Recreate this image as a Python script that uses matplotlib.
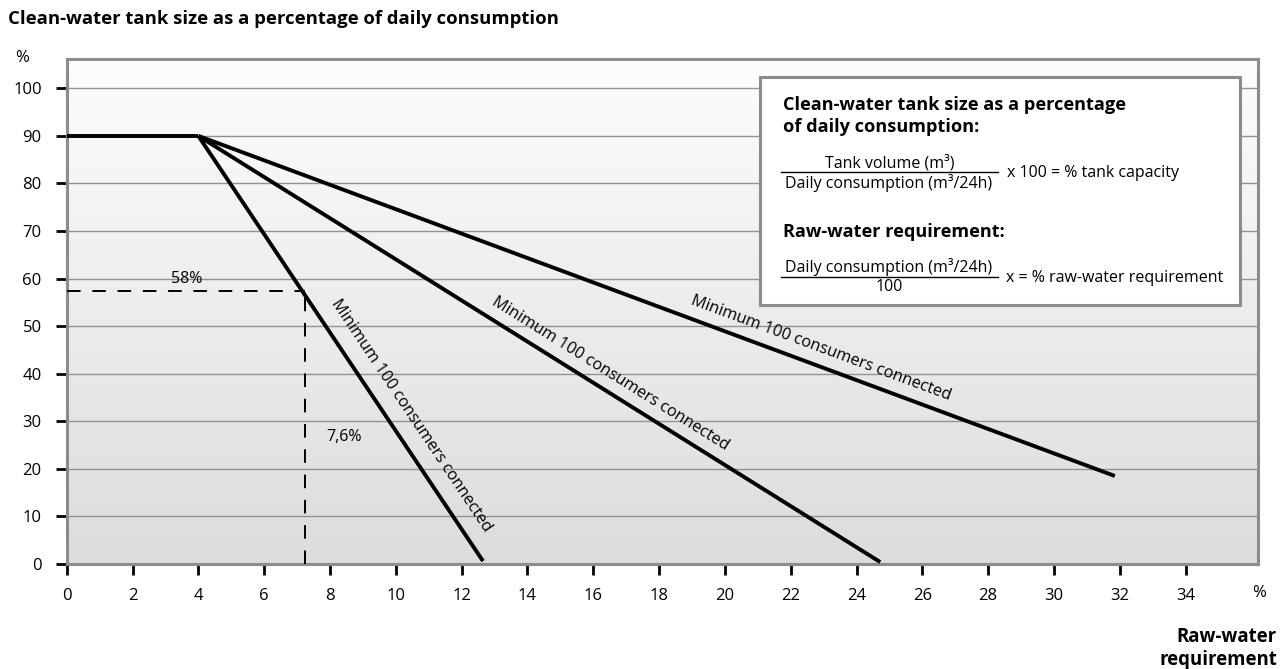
import numpy as np
import matplotlib
matplotlib.use("Agg")
import matplotlib.pyplot as plt
from matplotlib.patches import Rectangle
from matplotlib.colors import LinearSegmentedColormap

plt.rcParams['font.family'] = ['Open Sans', 'DejaVu Sans']

# ---- data ----
x_ticks = list(range(0, 36, 2))
y_ticks = list(range(0, 101, 10))
plateau_x = [0, 4]
plateau_y = [90, 90]
start_point = (4, 90)
line_ends_x = [12.65, 24.72, 31.85]
line_ends_y = [0.6, 0.4, 18.5]
line_labels = ["Minimum 100 consumers connected"] * 3
example_x = 7.24
example_y = 57.3
example_x_label = "7,6%"
example_y_label = "58%"

title = "Clean-water tank size as a percentage of daily consumption"

fig = plt.figure(figsize=(12.88, 6.69), dpi=100)
ax = fig.add_axes([0.0518, 0.157, 0.9249, 0.755])
xmax, ymax = 36.2, 106.2
ax.set_xlim(0, xmax)
ax.set_ylim(0, ymax)

# gradient background
grad = np.linspace(0, 1, 256).reshape(-1, 1)
cmap = LinearSegmentedColormap.from_list("g", ["#dcdcdc", "#fdfdfd"])
ax.imshow(grad, extent=[0, xmax, 0, ymax], origin="lower", aspect="auto",
          cmap=cmap, zorder=0)

# grid
for yv in y_ticks[1:]:
    ax.axhline(yv, color="#929292", lw=1.0, zorder=1)

# spines
for s in ax.spines.values():
    s.set_color("#8c8c8c")
    s.set_linewidth(2.2)

ax.set_xticks(x_ticks)
ax.set_yticks(y_ticks)
ax.tick_params(axis="both", direction="out", length=8, width=2, color="black",
               labelsize=12)
ax.tick_params(axis="x", pad=9)
ax.tick_params(axis="y", pad=10)

# lines
ax.plot(plateau_x, plateau_y, color="black", lw=2.8, zorder=3,
        solid_capstyle="butt")
for ex, ey in zip(line_ends_x, line_ends_y):
    ax.plot([start_point[0], ex], [start_point[1], ey], color="black", lw=2.8,
            zorder=3, solid_capstyle="butt")

# dashed example lines
ax.plot([0, example_x], [example_y, example_y], color="black", lw=1.4,
        dashes=(7, 6), zorder=3)
ax.plot([example_x, example_x], [0, example_y], color="black", lw=1.4,
        dashes=(7, 6), zorder=3)
ax.text(3.65, 60.0, example_y_label, fontsize=11.5, ha="center", va="center", zorder=4)
ax.text(8.43, 26.7, example_x_label, fontsize=11.5, ha="center", va="center", zorder=4)

# rotated labels
label_centers = [(10.48, 31.3), (16.52, 39.9), (22.93, 45.4)]
for (ex, ey), lab, (cx, cy) in zip(zip(line_ends_x, line_ends_y), line_labels, label_centers):
    p0 = ax.transData.transform(start_point)
    p1 = ax.transData.transform((ex, ey))
    ang = np.degrees(np.arctan2(p1[1] - p0[1], p1[0] - p0[0]))
    ax.text(cx, cy, lab, rotation=ang, rotation_mode="anchor", ha="center",
            va="center", fontsize=11.7, zorder=4)

# axis units
fig.text(22 / 1288, 1 - 58 / 669, "%", fontsize=12, ha="center", va="center")
fig.text(1259 / 1288, 1 - 593 / 669, "%", fontsize=12, ha="center", va="center")
fig.text(1277 / 1288, 1 - 648 / 669, "Raw-water\nrequirement", fontsize=13.4,
         fontweight="bold", ha="right", va="center", linespacing=1.2)

# title
fig.text(8 / 1288, 1 - 19 / 669, title, fontsize=13.3, fontweight="bold",
         ha="left", va="center")

# info box
def fx(px):
    return px / 1288

def fy(py):
    return 1 - py / 669

box = Rectangle((fx(760), fy(305)), fx(1240) - fx(760), fy(77) - fy(305),
                transform=fig.transFigure, facecolor="white", edgecolor="#8c8c8c",
                lw=2.2, zorder=5)
fig.patches.append(box)
fig.text(fx(783), fy(116), "Clean-water tank size as a percentage\nof daily consumption:",
         fontsize=13.1, fontweight="bold", ha="left", va="center", linespacing=1.3, zorder=6)
fig.text(fx(890), fy(163), "Tank volume (m³)", fontsize=11.5, ha="center", va="center", zorder=6)
fig.add_artist(plt.Line2D([fx(781), fx(998)], [fy(172), fy(172)], color="black", lw=1,
                          transform=fig.transFigure, zorder=6))
fig.text(fx(889), fy(183), "Daily consumption (m³/24h)", fontsize=11.5, ha="center", va="center", zorder=6)
fig.text(fx(1007), fy(173), "x 100 = % tank capacity", fontsize=11.5, ha="left", va="center", zorder=6)
fig.text(fx(783), fy(232), "Raw-water requirement:", fontsize=13.1, fontweight="bold",
         ha="left", va="center", zorder=6)
fig.text(fx(889), fy(267), "Daily consumption (m³/24h)", fontsize=11.5, ha="center", va="center", zorder=6)
fig.add_artist(plt.Line2D([fx(781), fx(998)], [fy(277), fy(277)], color="black", lw=1,
                          transform=fig.transFigure, zorder=6))
fig.text(fx(889), fy(287), "100", fontsize=11.5, ha="center", va="center", zorder=6)
fig.text(fx(1006), fy(278), "x = % raw-water requirement", fontsize=11.5, ha="left", va="center", zorder=6)

fig.savefig("out.png", dpi=100)
